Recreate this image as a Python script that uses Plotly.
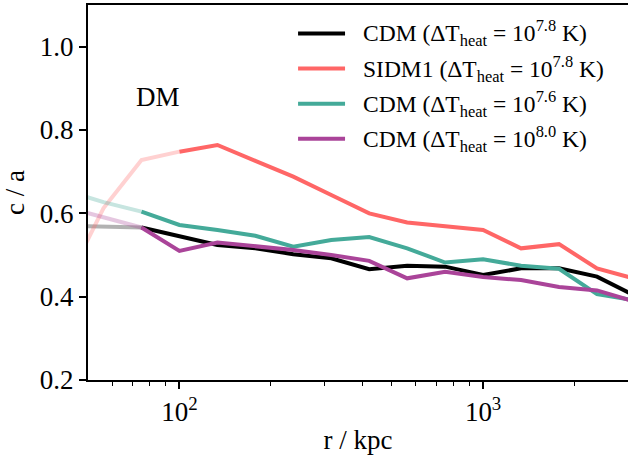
import numpy as np
import plotly.graph_objects as go

# radial bins (kpc), 0.125 dex spacing
r_kpc = [42.2, 56.2, 75.0, 100.0, 133.4, 177.8, 237.1, 316.2, 421.7, 562.3,
         749.9, 1000.0, 1333.5, 1778.3, 2371.4, 3162.3]

ca_cdm_78 = [0.570, 0.568, 0.566, 0.546, 0.524, 0.516, 0.502, 0.492, 0.466, 0.474,
             0.472, 0.452, 0.468, 0.468, 0.448, 0.402]
ca_sidm_78 = [0.430, 0.612, 0.728, 0.748, 0.764, 0.726, 0.688, 0.644, 0.600, 0.578,
              0.568, 0.560, 0.516, 0.526, 0.468, 0.443]
ca_cdm_76 = [0.655, 0.627, 0.604, 0.572, 0.560, 0.546, 0.520, 0.536, 0.543, 0.516,
             0.482, 0.490, 0.474, 0.467, 0.406, 0.391]
ca_cdm_80 = [0.615, 0.590, 0.566, 0.510, 0.530, 0.522, 0.512, 0.500, 0.486, 0.444,
             0.460, 0.447, 0.440, 0.423, 0.415, 0.388]

# index of first converged bin for each run
conv_idx = {'cdm78': 2, 'sidm78': 3, 'cdm76': 2, 'cdm80': 2}

runs = [
    ('cdm78', ca_cdm_78, (0, 0, 0), 'CDM (ΔT<sub>heat</sub> = 10<sup>7.8</sup> K)'),
    ('sidm78', ca_sidm_78, (255, 102, 102), 'SIDM1 (ΔT<sub>heat</sub> = 10<sup>7.8</sup> K)'),
    ('cdm76', ca_cdm_76, (68, 170, 153), 'CDM (ΔT<sub>heat</sub> = 10<sup>7.6</sup> K)'),
    ('cdm80', ca_cdm_80, (170, 68, 153), 'CDM (ΔT<sub>heat</sub> = 10<sup>8.0</sup> K)'),
]

font_family = 'Liberation Serif, Times New Roman, serif'

fig = go.Figure()
for n, (key, vals, rgb, label) in enumerate(runs):
    i = conv_idx[key]
    # unconverged part, faded
    fig.add_trace(go.Scatter(
        x=r_kpc[:i + 1], y=vals[:i + 1], mode='lines',
        line=dict(color='rgba(%d,%d,%d,0.3)' % rgb, width=4),
        showlegend=False, hoverinfo='skip'))
    fig.add_trace(go.Scatter(
        x=r_kpc[i:], y=vals[i:], mode='lines', name=label,
        line=dict(color='rgb(%d,%d,%d)' % rgb, width=4), showlegend=False))

    # hand-made legend so the sample line is as long as in the paper figure
    ly = 0.924 - n * 0.0935
    fig.add_shape(type='line', xref='paper', yref='paper',
                  x0=0.389, x1=0.476, y0=ly, y1=ly,
                  line=dict(color='rgb(%d,%d,%d)' % rgb, width=4))
    fig.add_annotation(x=0.506, y=ly, xref='paper', yref='paper', text=label,
                       xanchor='left', yanchor='middle', showarrow=False,
                       font=dict(size=23.5, color='black', family=font_family))

fig.add_annotation(x=np.log10(85), y=0.88, xref='x', yref='y', text='DM',
                   showarrow=False, font=dict(size=27, color='black', family=font_family))

fig.update_layout(
    width=628, height=456,
    margin=dict(l=88, r=0, t=5, b=76),
    plot_bgcolor='white', paper_bgcolor='white',
    font=dict(family=font_family, color='black', size=27),
    showlegend=False,
    xaxis=dict(
        type='log', range=[np.log10(50), np.log10(3000)],
        showline=True, linecolor='black', linewidth=2, mirror=True,
        showgrid=False, zeroline=False,
        ticks='outside', ticklen=7, tickwidth=1.5, tickcolor='black',
        tickvals=[100, 1000], ticktext=['10<sup>2</sup>', '10<sup>3</sup>'],
        minor=dict(ticks='outside', ticklen=4, tickwidth=1.2, tickcolor='black',
                   tickvals=[60, 70, 80, 90, 200, 300, 400, 500, 600, 700, 800, 900, 2000, 3000]),
        title=dict(text='r / kpc', font=dict(size=27), standoff=4),
    ),
    yaxis=dict(
        range=[0.2, 1.1],
        showline=True, linecolor='black', linewidth=2, mirror=False,
        showgrid=False, zeroline=False,
        ticks='outside', ticklen=7, tickwidth=1.5, tickcolor='black',
        tickvals=[0.2, 0.4, 0.6, 0.8, 1.0], ticktext=['0.2', '0.4', '0.6', '0.8', '1.0'],
        title=dict(text='c / a', font=dict(size=27), standoff=8),
    ),
)

# page has a default body margin; drop it so the figure fills the window
fig.write_html('out.html', config={'displayModeBar': False},
               post_script="document.body.style.margin='0px';")
